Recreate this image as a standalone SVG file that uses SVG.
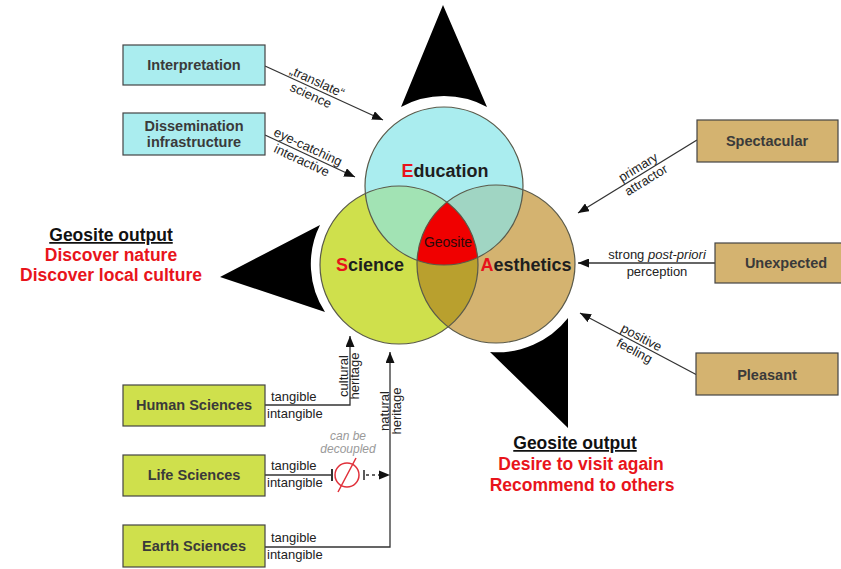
<svg xmlns="http://www.w3.org/2000/svg" width="841" height="569" viewBox="0 0 841 569">
<style>
text{font-family:"Liberation Sans",Arial,sans-serif;}
.box{stroke:#444;stroke-width:1.2;}
.cyan{fill:#aaedef;}
.green{fill:#cfe04c;}
.tan{fill:#d4b370;}
.bt{font-size:14.5px;font-weight:bold;fill:#3a3a3a;text-anchor:middle;}
.lbl{font-size:13px;fill:#222;}
.mid{text-anchor:middle;}
.con{fill:none;stroke:#333;stroke-width:1.3;}
.ring{fill:none;stroke:#5a5a4a;stroke-width:1.2;}
.big{fill:#000;}
.out{font-size:17.5px;font-weight:bold;text-anchor:middle;}
.red{fill:#e8141b;}
.ct{font-size:18px;font-weight:bold;fill:#1e1e1e;text-anchor:middle;}
</style>
<defs>
<marker id="ah" markerWidth="11" markerHeight="9" refX="11" refY="4.5" orient="auto" markerUnits="userSpaceOnUse">
<path d="M0,0 L11,4.5 L0,9 z" fill="#111"/>
</marker>
<clipPath id="cE"><circle cx="444" cy="186" r="79"/></clipPath>
<clipPath id="cS"><circle cx="399" cy="265" r="79"/></clipPath>
</defs>
<rect width="841" height="569" fill="#fff"/>

<!-- big output arrowheads -->
<g id="arrow-top"><path class="big" d="M443 5 L487 107 A90 90 0 0 0 401 107 Z"/></g>
<g id="arrow-left"><path class="big" d="M220 277 L320 225 A88 88 0 0 0 325 312 Z"/></g>
<g id="arrow-bottom"><path class="big" d="M568 428 L568 318 A90 90 0 0 1 490 352 Z"/></g>

<!-- Venn circles -->
<g id="venn">
<circle cx="399" cy="265" r="79" fill="#cfe04c"/>
<circle cx="496" cy="264" r="79" fill="#d4b370"/>
<circle cx="444" cy="186" r="79" fill="#aaedef"/>
<circle cx="399" cy="265" r="79" fill="#a2e3b4" clip-path="url(#cE)"/>
<circle cx="496" cy="264" r="79" fill="#a0d5c3" clip-path="url(#cE)"/>
<circle cx="496" cy="264" r="79" fill="#b9a02e" clip-path="url(#cS)"/>
<g clip-path="url(#cE)"><circle cx="496" cy="264" r="79" fill="#f00000" clip-path="url(#cS)"/></g>
<circle class="ring" cx="444" cy="186" r="79"/>
<circle class="ring" cx="399" cy="265" r="79"/>
<circle class="ring" cx="496" cy="264" r="79"/>
</g>
<g id="education"><text class="ct" x="445" y="177"><tspan class="red">E</tspan>ducation</text></g>
<g id="science"><text class="ct" x="370" y="271"><tspan class="red">S</tspan>cience</text></g>
<g id="aesthetics"><text class="ct" x="526" y="271"><tspan class="red">A</tspan>esthetics</text></g>
<g id="geosite"><text x="448" y="247" font-size="14" fill="#2a0a0a" text-anchor="middle">Geosite</text></g>

<!-- connectors -->
<g id="connectors">
<line class="con" x1="265" y1="66" x2="383" y2="120" marker-end="url(#ah)"/>
<line class="con" x1="265" y1="135" x2="355" y2="177" marker-end="url(#ah)"/>
<line class="con" x1="697" y1="140" x2="578" y2="213" marker-end="url(#ah)"/>
<line class="con" x1="715" y1="263" x2="578" y2="263" marker-end="url(#ah)"/>
<line class="con" x1="697" y1="375" x2="580" y2="313" marker-end="url(#ah)"/>
<polyline class="con" points="265,405 350,405 350,336" marker-end="url(#ah)"/>
<polyline class="con" points="265,547 390,547 390,352" marker-end="url(#ah)"/>
<line class="con" x1="265" y1="475" x2="332" y2="475"/>
<line x1="332" y1="469" x2="332" y2="481" stroke="#333" stroke-width="2"/>
<line x1="364" y1="470" x2="364" y2="480" stroke="#333" stroke-width="1.6"/>
<line class="con" x1="366" y1="475" x2="380" y2="475" stroke-dasharray="3,3"/>
<path d="M379 470.5 L390 475 L379 479.5 z" fill="#111"/>
<circle cx="347" cy="475" r="12" fill="none" stroke="#e0303a" stroke-width="1.5"/>
<line x1="356" y1="458" x2="338" y2="492" stroke="#e0303a" stroke-width="1.5"/>
</g>

<!-- connector labels -->
<g id="labels">
<g transform="translate(314 88.4) rotate(24.6)"><text class="lbl mid" y="-3">„translate“</text><text class="lbl mid" y="12">science</text></g>
<g transform="translate(305 153.5) rotate(25)"><text class="lbl mid" y="-3">eye-catching</text><text class="lbl mid" y="12">interactive</text></g>
<g transform="translate(642 173.5) rotate(-31.5)"><text class="lbl mid" y="-3">primary</text><text class="lbl mid" y="12">attractor</text></g>
<text class="lbl mid" x="657" y="259">strong <tspan font-style="italic">post-priori</tspan></text>
<text class="lbl mid" x="657" y="276">perception</text>
<g transform="translate(638 344) rotate(27.9)"><text class="lbl mid" y="-3">positive</text><text class="lbl mid" y="12">feeling</text></g>
<text class="lbl" x="271" y="401">tangible</text>
<text class="lbl" x="267" y="418">intangible</text>
<text class="lbl" x="271" y="470">tangible</text>
<text class="lbl" x="267" y="487">intangible</text>
<text class="lbl" x="271" y="542">tangible</text>
<text class="lbl" x="267" y="559">intangible</text>
<g transform="translate(349 376) rotate(-90)"><text class="lbl mid" y="-1">cultural</text><text class="lbl mid" y="10">heritage</text></g>
<g transform="translate(390 411) rotate(-90)"><text class="lbl mid" y="-1">natural</text><text class="lbl mid" y="11">heritage</text></g>
<text x="348" y="440" font-size="12" font-style="italic" fill="#9a9a9a" text-anchor="middle">can be</text>
<text x="348" y="453" font-size="12" font-style="italic" fill="#9a9a9a" text-anchor="middle">decoupled</text>
</g>

<!-- boxes -->
<g id="interpretation"><rect class="box cyan" x="123" y="45" width="142" height="40"/><text class="bt" x="194" y="70">Interpretation</text></g>
<g id="dissemination"><rect class="box cyan" x="123" y="113" width="142" height="42"/><text class="bt" x="194" y="131">Dissemination</text><text class="bt" x="194" y="147">infrastructure</text></g>
<g id="spectacular"><rect class="box tan" x="697" y="120" width="141" height="42"/><text class="bt" x="767" y="146">Spectacular</text></g>
<g id="unexpected"><rect class="box tan" x="715" y="243" width="142" height="40"/><text class="bt" x="786" y="268">Unexpected</text></g>
<g id="pleasant"><rect class="box tan" x="696" y="353" width="142" height="42"/><text class="bt" x="767" y="380">Pleasant</text></g>
<g id="human"><rect class="box green" x="123" y="385" width="142" height="41"/><text class="bt" x="194" y="410">Human Sciences</text></g>
<g id="life"><rect class="box green" x="123" y="455" width="142" height="41"/><text class="bt" x="194" y="480">Life Sciences</text></g>
<g id="earth"><rect class="box green" x="123" y="525" width="142" height="42"/><text class="bt" x="194" y="551">Earth Sciences</text></g>

<!-- outputs -->
<g id="output-left">
<text class="out" x="111" y="241" fill="#111" text-decoration="underline">Geosite output</text>
<text class="out red" x="111" y="261">Discover nature</text>
<text class="out red" x="111" y="281">Discover local culture</text>
</g>
<g id="output-bottom">
<text class="out" x="575" y="449" fill="#111" text-decoration="underline">Geosite output</text>
<text class="out red" x="581" y="470">Desire to visit again</text>
<text class="out red" x="582" y="491">Recommend to others</text>
</g>
</svg>
